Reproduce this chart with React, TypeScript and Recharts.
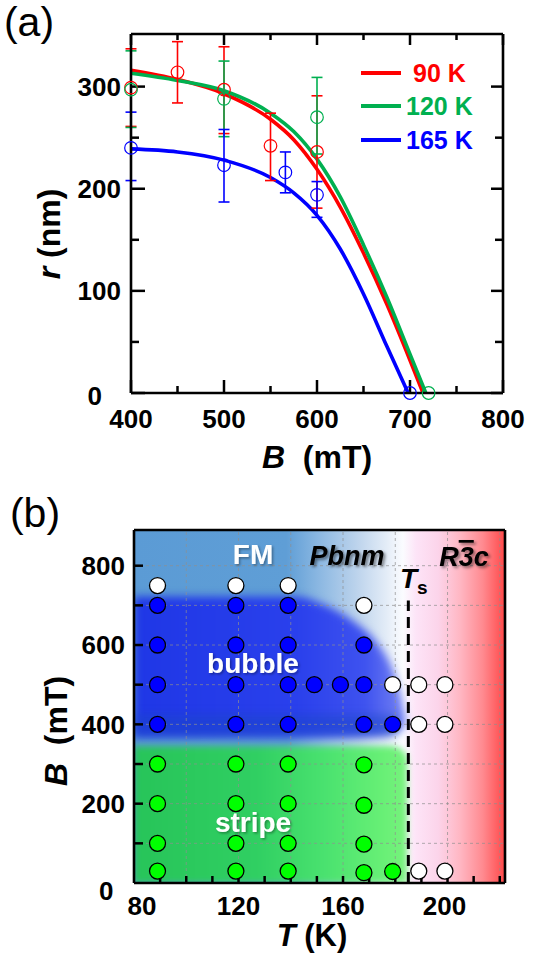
import React from 'react';
import { ComposedChart, Line, Scatter, ErrorBar, XAxis, YAxis, Legend, Area, ReferenceLine } from 'recharts';

const FONT = "'Liberation Sans', Arial, Helvetica, sans-serif";
const RED = '#ff0000';
const GREEN = '#00b050';
const BLUE = '#0000ff';

// ---------------- panel (a): r vs B ----------------
const fit90B = [400, 450, 500, 550, 575, 600, 625, 650, 675, 700, 714];
const fit90R = [316, 307, 293, 268, 248, 219, 182, 137, 87, 32, 0];
const fit120B = [400, 450, 500, 550, 575, 600, 625, 650, 675, 700, 717];
const fit120R = [313, 306, 296, 274, 256, 229, 192, 145, 94, 38, 0];
const fit165B = [400, 450, 500, 550, 575, 600, 625, 650, 675, 698];
const fit165R = [239, 236, 228, 211, 196, 174, 141, 97, 46, 0];

const pt90B = [400, 450, 500, 550, 600];
const pt90R = [299, 314, 297, 242, 236];
const pt90Hi = [337, 344, 339, 274, 291];
const pt90Lo = [261, 284, 254, 208, 181];

const pt120B = [400, 500, 600];
const pt120R = [297, 288, 270];
const pt120Hi = [335, 325, 309];
const pt120Lo = [260, 251, 234];

const pt165B = [400, 500, 566, 600];
const pt165R = [240, 223, 216, 194];
const pt165Hi = [275, 258, 236, 207];
const pt165Lo = [208, 187, 196, 172];

const zero120B = [720];
const zero165B = [700];

const aXDomain = [400, 800];
const aYDomain = [0, 351.5];
const aXTicks = [400, 450, 500, 550, 600, 650, 700, 750, 800];
const aXMajor = [400, 500, 600, 700, 800];
const aYTicks = [0, 50, 100, 150, 200, 250, 300];
const aYMajor = [0, 100, 200, 300];

const legendNames = ['90 K', '120 K', '165 K'];
const legendColors = [RED, GREEN, BLUE];

// ---------------- panel (b): phase diagram ----------------
const whiteT = [89, 119, 139, 168, 179, 189, 199, 189, 199, 189, 199];
const whiteB = [750, 750, 750, 700, 500, 500, 500, 400, 400, 30, 30];
const blueT = [89, 89, 89, 89, 119, 119, 119, 119, 139, 139, 139, 139, 149, 159, 168, 168, 168, 179];
const blueB = [700, 600, 500, 400, 700, 600, 500, 400, 700, 600, 500, 400, 500, 500, 600, 500, 400, 400];
const greenT = [89, 89, 89, 89, 119, 119, 119, 119, 139, 139, 139, 139, 168, 168, 168, 168, 179];
const greenB = [300, 200, 100, 30, 300, 200, 100, 30, 300, 200, 100, 30, 298, 196, 98, 26, 29];

const bgT = [80, 222];
const bgLo = [0, 0];
const bgHi = [890, 890];
const bubT = [80, 142, 151, 164, 174, 179, 182.5, 184];
const bubLo = [369, 369, 369, 369, 371, 376, 388, 400];
const bubHi = [722, 722, 706, 659, 596, 537, 461, 410];
const bandT = [80, 176, 181];
const bandLo = [369, 371, 380];
const bandHi = [425, 425, 420];
const stripeT = [80, 178, 182, 184.5];
const stripeLo = [0, 0, 0, 0];
const stripeHi = [345, 345, 338, 320];

const TsValue = 185;
const TsTop = 712;
const gridT = [100, 120, 140, 160, 180, 200, 220];
const gridB = [100, 200, 300, 400, 500, 600, 700, 800];

const bXDomain = [80, 222];
const bYDomain = [0, 890];
const bXTicks = [80, 90, 100, 110, 120, 130, 140, 150, 160, 170, 180, 190, 200, 210, 220];
const bXLabels = [80, 120, 160, 200];
const bYTicks = [0, 100, 200, 300, 400, 500, 600, 700, 800];
const bYLabels = [0, 200, 400, 600, 800];

// ---------------- layout (pixels) ----------------
const A_LEFT = 131;
const A_TOP = 34;
const A_PLOT_W = 372;
const A_PLOT_H = 359;
const B_LEFT = 134;
const B_TOP = 50;
const B_PLOT_W = 371;
const B_PLOT_H = 353;

// ---------------- helpers ----------------
const pts = (xs: number[], ys: number[]) => xs.map((x, i) => ({ B: x, r: ys[i] }));
const errPts = (xs: number[], ys: number[], hi: number[], lo: number[]) =>
  xs.map((x, i) => ({ B: x, r: ys[i], err: [ys[i] - lo[i], hi[i] - ys[i]] }));
const pb = (ts: number[], bs: number[]) => ts.map((t, i) => ({ T: t, B: bs[i] }));
const rng = (ts: number[], lo: number[], hi: number[]) => ts.map((t, i) => ({ T: t, rng: [lo[i], hi[i]] }));

const tickFont = { fontFamily: FONT, fontWeight: 700, fontSize: 26, fill: '#000' } as const;

type LabelCfg = {
  side: 'bottom' | 'left';
  labels: number[];
  gap: number;
  shift?: Record<number, [number, number]>;
};

const makeLabel = (cfg: LabelCfg) => (props: any) => {
  const { x, y, payload } = props;
  const v = payload.value;
  if (!cfg.labels.includes(v)) return <g />;
  const s = (cfg.shift && cfg.shift[v]) || [0, 0];
  if (cfg.side === 'bottom') {
    return (
      <text x={x + s[0]} y={y + cfg.gap + s[1]} textAnchor="middle" {...tickFont}>
        {v}
      </text>
    );
  }
  return (
    <text x={x - cfg.gap + s[0]} y={y + 9.3 + s[1]} textAnchor="end" {...tickFont}>
      {v}
    </text>
  );
};

const AXLINE = { stroke: '#000', strokeWidth: 2.6 };
const TICK_STYLE = { stroke: '#000', strokeWidth: 2.5 };

// inward tick marks, drawn as reference segments through the chart scales
type Seg = [{ x: number; y: number }, { x: number; y: number }];
const tickSegsX = (ticks: number[], major: number[], yEdge: number, dir: number, pxPerUnit: number, majLen: number, minLen: number): Seg[] =>
  ticks.map((v) => {
    const len = (major.includes(v) ? majLen : minLen) / pxPerUnit;
    return [{ x: v, y: yEdge }, { x: v, y: yEdge + dir * len }];
  });
const tickSegsY = (ticks: number[], major: number[], xEdge: number, dir: number, pxPerUnit: number, majLen: number, minLen: number): Seg[] =>
  ticks.map((v) => {
    const len = (major.includes(v) ? majLen : minLen) / pxPerUnit;
    return [{ x: xEdge, y: v }, { x: xEdge + dir * len, y: v }];
  });

const aXpx = A_PLOT_W / (aXDomain[1] - aXDomain[0]);
const aYpx = A_PLOT_H / (aYDomain[1] - aYDomain[0]);
const aTickSegs: Seg[] = [
  ...tickSegsX(aXTicks, aXMajor, aYDomain[0], 1, aYpx, 13, 7),
  ...tickSegsX(aXTicks, aXMajor, aYDomain[1], -1, aYpx, 11, 6),
  ...tickSegsY(aYTicks, aYMajor, aXDomain[0], 1, aXpx, 14, 8),
  ...tickSegsY(aYTicks, aYMajor, aXDomain[1], -1, aXpx, 12, 8),
];

const bXpx = B_PLOT_W / (bXDomain[1] - bXDomain[0]);
const bYpx = B_PLOT_H / (bYDomain[1] - bYDomain[0]);
const bTickSegs: Seg[] = [
  ...tickSegsX(bXTicks.slice(1), [], bYDomain[0], 1, bYpx, 7, 7),
  ...tickSegsY(bYTicks.slice(1), [], bXDomain[0], 1, bXpx, 9, 9),
];

const LegendBox = () => (
  <div style={{ position: 'relative', width: 170, height: 110 }}>
    {legendNames.map((n, i) => (
      <div
        key={n}
        style={{ position: 'absolute', left: 0, top: i * 33.5, height: 34, display: 'flex', alignItems: 'center', whiteSpace: 'nowrap' }}
      >
        <div style={{ width: 40, height: 4, background: legendColors[i] }} />
        <span
          style={{
            marginLeft: i === 0 ? 12 : 5,
            fontFamily: FONT,
            fontWeight: 700,
            fontSize: 25,
            color: legendColors[i],
            lineHeight: '34px',
          }}
        >
          {n}
        </span>
      </div>
    ))}
  </div>
);

const openCircle = (color: string) => (p: any) =>
  p.cx == null ? <g /> : <circle cx={p.cx} cy={p.cy} r={6.3} fill="none" stroke={color} strokeWidth={1.2} />;
const filledCircle = (color: string) => (p: any) =>
  p.cx == null ? <g /> : <circle cx={p.cx} cy={p.cy} r={8} fill={color} stroke="#000" strokeWidth={1.3} />;

const ChartA = () => (
  <ComposedChart width={536} height={480} margin={{ top: A_TOP - 1, right: 536 - A_LEFT - A_PLOT_W - 1, bottom: 480 - A_TOP - A_PLOT_H - 1, left: A_LEFT - 1 }}>
    <XAxis
      type="number"
      dataKey="B"
      domain={aXDomain}
      ticks={aXTicks}
      interval={0}
      tickSize={0}
      tickMargin={0}
      tickLine={false}
      axisLine={AXLINE}
      height={1}
      tick={makeLabel({ side: 'bottom', labels: aXMajor, gap: 35 })}
    />
    <XAxis xAxisId="top" orientation="top" type="number" domain={aXDomain} tick={false} tickLine={false} axisLine={AXLINE} height={1} />
    <YAxis
      type="number"
      dataKey="r"
      domain={aYDomain}
      ticks={aYTicks}
      interval={0}
      tickSize={0}
      tickMargin={0}
      tickLine={false}
      axisLine={AXLINE}
      width={1}
      tick={makeLabel({ side: 'left', labels: aYMajor, gap: 10, shift: { 0: [-19, 3] } })}
    />
    <YAxis yAxisId="right" orientation="right" type="number" domain={aYDomain} tick={false} tickLine={false} axisLine={AXLINE} width={1} />
    {aTickSegs.map((s, i) => (
      <ReferenceLine key={'at' + i} segment={s} ifOverflow="visible" {...TICK_STYLE} />
    ))}
    <Line data={pts(fit165B, fit165R)} dataKey="r" type="monotone" stroke={BLUE} strokeWidth={3.6} dot={false} activeDot={false} isAnimationActive={false} />
    <Line data={pts(fit90B, fit90R)} dataKey="r" type="monotone" stroke={RED} strokeWidth={3.6} dot={false} activeDot={false} isAnimationActive={false} />
    <Line data={pts(fit120B, fit120R)} dataKey="r" type="monotone" stroke={GREEN} strokeWidth={3.6} dot={false} activeDot={false} isAnimationActive={false} />
    <Scatter data={errPts(pt90B, pt90R, pt90Hi, pt90Lo)} dataKey="r" shape={openCircle(RED)} isAnimationActive={false}>
      <ErrorBar dataKey="err" direction="y" width={5.5} stroke={RED} strokeWidth={1.6} isAnimationActive={false} />
    </Scatter>
    <Scatter data={errPts(pt120B, pt120R, pt120Hi, pt120Lo)} dataKey="r" shape={openCircle(GREEN)} isAnimationActive={false}>
      <ErrorBar dataKey="err" direction="y" width={5.5} stroke={GREEN} strokeWidth={1.6} isAnimationActive={false} />
    </Scatter>
    <Scatter data={errPts(pt165B, pt165R, pt165Hi, pt165Lo)} dataKey="r" shape={openCircle(BLUE)} isAnimationActive={false}>
      <ErrorBar dataKey="err" direction="y" width={5.5} stroke={BLUE} strokeWidth={1.6} isAnimationActive={false} />
    </Scatter>
    <Scatter data={pts(zero165B, [0])} dataKey="r" shape={openCircle(BLUE)} isAnimationActive={false} />
    <Scatter data={pts(zero120B, [0])} dataKey="r" shape={openCircle(GREEN)} isAnimationActive={false} />
    <Legend
      layout="vertical"
      align="center"
      verticalAlign="middle"
      content={LegendBox}
      wrapperStyle={{ left: 361, top: 55.5, width: 170, height: 110 }}
    />
  </ComposedChart>
);

const ChartB = () => (
  <ComposedChart width={536} height={474} margin={{ top: B_TOP - 1, right: 536 - B_LEFT - B_PLOT_W - 1, bottom: 474 - B_TOP - B_PLOT_H - 1, left: B_LEFT - 1 }}>
    <defs>
      <linearGradient id="bgGrad" x1="0" y1="0" x2="1" y2="0">
        <stop offset="0" stopColor="#5b9bd5" />
        <stop offset="0.41" stopColor="#5f9ed6" />
        <stop offset="0.50" stopColor="#8cb8e2" />
        <stop offset="0.60" stopColor="#bcd3ec" />
        <stop offset="0.68" stopColor="#e3ecf7" />
        <stop offset="0.725" stopColor="#fbfcff" />
        <stop offset="0.76" stopColor="#fde4f7" />
        <stop offset="0.82" stopColor="#fcd4ea" />
        <stop offset="0.88" stopColor="#ffb6c2" />
        <stop offset="0.94" stopColor="#ff8a90" />
        <stop offset="1" stopColor="#ff4848" />
      </linearGradient>
      <linearGradient id="bubGrad" x1="0" y1="0" x2="1" y2="0">
        <stop offset="0" stopColor="#1f37e6" />
        <stop offset="0.6" stopColor="#2a40ec" />
        <stop offset="0.85" stopColor="#3e52ef" />
        <stop offset="1" stopColor="#7684f3" />
      </linearGradient>
      <linearGradient id="stripeGrad" x1="0" y1="0" x2="1" y2="0">
        <stop offset="0" stopColor="#27c459" />
        <stop offset="0.45" stopColor="#30cf62" />
        <stop offset="0.7" stopColor="#4ae26f" />
        <stop offset="0.9" stopColor="#66ef75" />
        <stop offset="1" stopColor="#78f27d" />
      </linearGradient>
    </defs>
    <XAxis
      type="number"
      dataKey="T"
      domain={bXDomain}
      ticks={bXTicks}
      interval={0}
      tickSize={0}
      tickMargin={0}
      tickLine={false}
      axisLine={AXLINE}
      height={1}
      allowDataOverflow
      tick={makeLabel({ side: 'bottom', labels: bXLabels, gap: 32, shift: { 80: [8, 0], 200: [-3, 0] } })}
    />
    <XAxis xAxisId="top" orientation="top" type="number" domain={bXDomain} tick={false} tickLine={false} axisLine={AXLINE} height={1} />
    <YAxis
      type="number"
      dataKey="B"
      domain={bYDomain}
      ticks={bYTicks}
      interval={0}
      tickSize={0}
      tickMargin={0}
      tickLine={false}
      axisLine={AXLINE}
      width={1}
      allowDataOverflow
      tick={makeLabel({ side: 'left', labels: bYLabels, gap: 9, shift: { 0: [-11.5, 7.5] } })}
    />
    <YAxis yAxisId="right" orientation="right" type="number" domain={bYDomain} tick={false} tickLine={false} axisLine={AXLINE} width={1} />
    <Area data={rng(bgT, bgLo, bgHi)} dataKey="rng" type="linear" fill="url(#bgGrad)" fillOpacity={1} stroke="none" dot={false} activeDot={false} isAnimationActive={false} />
    <Area className="blur4" data={rng(bubT, bubLo, bubHi)} dataKey="rng" type="monotone" fill="url(#bubGrad)" fillOpacity={1} stroke="none" dot={false} activeDot={false} isAnimationActive={false} />
    <Area className="blur4" data={rng(bandT, bandLo, bandHi)} dataKey="rng" type="monotone" fill="#1a46c8" fillOpacity={0.5} stroke="none" dot={false} activeDot={false} isAnimationActive={false} />
    <Area className="blur3" data={rng(stripeT, stripeLo, stripeHi)} dataKey="rng" type="monotone" fill="url(#stripeGrad)" fillOpacity={1} stroke="none" dot={false} activeDot={false} isAnimationActive={false} />
    {gridT.map((t) => (
      <ReferenceLine key={'gt' + t} x={t} stroke="#8f8f8f" strokeOpacity={0.7} strokeDasharray="3 3" strokeWidth={1} />
    ))}
    {gridB.map((b) => (
      <ReferenceLine key={'gb' + b} y={b} stroke="#8f8f8f" strokeOpacity={0.7} strokeDasharray="3 3" strokeWidth={1} />
    ))}
    {bTickSegs.map((s, i) => (
      <ReferenceLine key={'bt' + i} segment={s} ifOverflow="visible" {...TICK_STYLE} />
    ))}
    <ReferenceLine segment={[{ x: TsValue, y: 0 }, { x: TsValue, y: TsTop }]} stroke="#000" strokeWidth={3} strokeDasharray="11 6" />
    <Scatter data={pb(whiteT, whiteB)} dataKey="B" shape={filledCircle('#ffffff')} isAnimationActive={false} />
    <Scatter data={pb(blueT, blueB)} dataKey="B" shape={filledCircle('#0000ff')} isAnimationActive={false} />
    <Scatter data={pb(greenT, greenB)} dataKey="B" shape={filledCircle('#00ff00')} isAnimationActive={false} />
  </ComposedChart>
);

const titleFont = { fontFamily: FONT, fontWeight: 700, fontSize: 32, fill: '#000' } as const;

const OverlayA = () => (
  <svg width={536} height={480} style={{ position: 'absolute', left: 0, top: 0, pointerEvents: 'none' }}>
    <text x={29} y={36} textAnchor="middle" fontFamily={FONT} fontSize={41} fill="#000">
      (a)
    </text>
    <text x={317} y={468} textAnchor="middle" {...titleFont} style={{ whiteSpace: 'pre' }}>
      <tspan fontStyle="italic">B</tspan>
      {'  (mT)'}
    </text>
    <text x={48} y={245.5} textAnchor="middle" transform="rotate(-90 48 234)" {...titleFont} style={{ whiteSpace: 'pre' }}>
      <tspan fontStyle="italic">r</tspan>
      {' (nm)'}
    </text>
  </svg>
);

const OverlayB = () => (
  <svg width={536} height={474} style={{ position: 'absolute', left: 0, top: 480, pointerEvents: 'none' }}>
    <defs>
      <filter id="tsh" x="-20%" y="-30%" width="150%" height="170%">
        <feDropShadow dx="2" dy="2" stdDeviation="1.4" floodColor="#000" floodOpacity="0.45" />
      </filter>
      <filter id="tshw" x="-20%" y="-30%" width="150%" height="170%">
        <feDropShadow dx="1.5" dy="1.5" stdDeviation="1.2" floodColor="#000" floodOpacity="0.35" />
      </filter>
    </defs>
    <text x={35} y={47} textAnchor="middle" fontFamily={FONT} fontSize={41} fill="#000">
      (b)
    </text>
    <text x={253} y={84} textAnchor="middle" fontFamily={FONT} fontWeight={700} fontSize={28} fill="#fff" filter="url(#tshw)">
      FM
    </text>
    <text x={347} y={85} textAnchor="middle" fontFamily={FONT} fontWeight={700} fontStyle="italic" fontSize={27} fill="#000" filter="url(#tsh)">
      Pbnm
    </text>
    <text x={464} y={86} textAnchor="middle" fontFamily={FONT} fontWeight={700} fontStyle="italic" fontSize={27} fill="#000" filter="url(#tsh)">
      R<tspan style={{ textDecoration: 'overline' }}>3</tspan>c
    </text>
    <text x={400} y={108} fontFamily={FONT} fontWeight={700} fontStyle="italic" fontSize={28} fill="#000">
      T
    </text>
    <text x={417} y={114} fontFamily={FONT} fontWeight={700} fontSize={19} fill="#000">
      s
    </text>
    <text x={253} y={193} textAnchor="middle" fontFamily={FONT} fontWeight={700} fontSize={28} fill="#fff" filter="url(#tshw)">
      bubble
    </text>
    <text x={253} y={352} textAnchor="middle" fontFamily={FONT} fontWeight={700} fontSize={28} fill="#fff" filter="url(#tshw)">
      stripe
    </text>
    <text x={312} y={466} textAnchor="middle" {...titleFont} fontSize={31} style={{ whiteSpace: 'pre' }}>
      <tspan fontStyle="italic">T</tspan>
      {' (K)'}
    </text>
    <text x={55} y={262.5} textAnchor="middle" transform="rotate(-90 55 251)" {...titleFont} style={{ whiteSpace: 'pre' }}>
      <tspan fontStyle="italic">B</tspan>
      {'  (mT)'}
    </text>
  </svg>
);

export default function App() {
  return (
    <div style={{ position: 'absolute', left: 0, top: 0, width: 536, height: 954, background: '#fff', overflow: 'hidden' }}>
      <style>{`.blur4 path { filter: blur(4px); } .blur3 path { filter: blur(3px); }`}</style>
      <div style={{ position: 'absolute', left: 0, top: 0, width: 536, height: 480 }}>
        <ChartA />
        <OverlayA />
      </div>
      <div style={{ position: 'absolute', left: 0, top: 480, width: 536, height: 474 }}>
        <div style={{ position: 'absolute', left: 0, top: 0 }}>
          <ChartB />
        </div>
      </div>
      <OverlayB />
    </div>
  );
}
